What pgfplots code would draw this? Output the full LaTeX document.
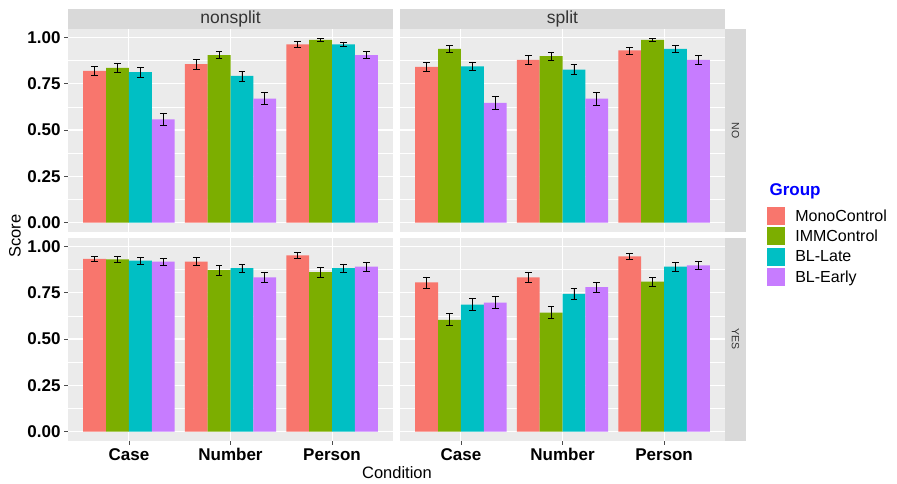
\documentclass[border=0pt]{standalone}
\usepackage{pgfplots}
\usepackage{pgfplotstable}
\pgfplotsset{compat=1.18}
\usepackage{fontspec}
\setmainfont{Liberation Sans}
\definecolor{cMono}{HTML}{F8766D}
\definecolor{cIMM}{HTML}{7CAE00}
\definecolor{cLate}{HTML}{00BFC4}
\definecolor{cEarly}{HTML}{C77CFF}
\definecolor{panelbg}{HTML}{EBEBEB}
\definecolor{stripbg}{HTML}{D9D9D9}
\definecolor{striptxt}{HTML}{333333}

\pgfplotstableread{
x mono monoe imm imme late latee early earlye
1 0.819 0.026 0.835 0.025 0.812 0.027 0.557 0.032
2 0.855 0.026 0.904 0.020 0.792 0.027 0.669 0.033
3 0.962 0.014 0.986 0.007 0.962 0.013 0.904 0.020
}\tNsNo
\pgfplotstableread{
x mono monoe imm imme late latee early earlye
1 0.841 0.025 0.938 0.019 0.844 0.023 0.646 0.033
2 0.879 0.023 0.899 0.022 0.826 0.026 0.669 0.034
3 0.929 0.019 0.986 0.009 0.938 0.017 0.879 0.024
}\tSpNo
\pgfplotstableread{
x mono monoe imm imme late latee early earlye
1 0.933 0.014 0.930 0.018 0.923 0.019 0.917 0.020
2 0.917 0.022 0.872 0.026 0.883 0.022 0.832 0.026
3 0.951 0.014 0.861 0.026 0.883 0.022 0.890 0.024
}\tNsYes
\pgfplotstableread{
x mono monoe imm imme late latee early earlye
1 0.805 0.030 0.604 0.032 0.686 0.033 0.697 0.032
2 0.832 0.025 0.643 0.033 0.744 0.030 0.780 0.027
3 0.946 0.016 0.809 0.025 0.890 0.023 0.897 0.021
}\tSpYes

\pgfplotsset{
  facet/.style={
    scale only axis, width=325pt, height=203pt,
    xmin=0.4, xmax=3.6, ymin=-0.05, ymax=1.045,
    xtick={1,2,3}, ytick={0,0.25,0.5,0.75,1},
    minor ytick={0.125,0.375,0.625,0.875},
    axis background/.style={fill=panelbg},
    axis line style={draw=none},
    xmajorgrids, ymajorgrids, yminorgrids,
    major grid style={white, line width=1.1pt},
    minor grid style={white, line width=0.55pt},
    tick pos=left, tick align=outside,
    major tick length=4pt, minor tick length=0pt,
    tick style={gray!60!black, line width=0.8pt},
    clip=false,
    anchor=south west,
    /pgf/number format/assume math mode=true,
    yticklabels={0.00,0.25,0.50,0.75,1.00},
    xticklabels={Case,Number,Person},
    ticklabel style={font=\bfseries\fontsize{17}{17}\selectfont, text=black},
  },
  noxlab/.style={xticklabels={}, xtick style={draw=none}},
  noylab/.style={yticklabels={}, ytick style={draw=none}},
  gbar/.style={ybar, bar width=0.225, bar shift=0, fill=#1, draw=none, forget plot,
    error bars/.cd, y dir=both, y explicit,
    error bar style={black, line width=0.75pt},
    error mark options={black, rotate=90, mark size=3.3pt, line width=0.75pt}},
}

\newcommand{\fourbars}[1]{%
  \addplot[gbar=cMono] table[x expr=\thisrow{x}-0.3375, y=mono, y error=monoe] {#1};
  \addplot[gbar=cIMM] table[x expr=\thisrow{x}-0.1125, y=imm, y error=imme] {#1};
  \addplot[gbar=cLate] table[x expr=\thisrow{x}+0.1125, y=late, y error=latee] {#1};
  \addplot[gbar=cEarly] table[x expr=\thisrow{x}+0.3375, y=early, y error=earlye] {#1};
}
\newcommand{\topstrip}[1]{%
  \fill[stripbg] (rel axis cs:0,1) rectangle ([yshift=20pt]rel axis cs:1,1);
  \node[font=\fontsize{17.5}{17.5}\selectfont, text=striptxt] at ([yshift=10pt]rel axis cs:0.5,1) {#1};
}
\newcommand{\sidestrip}[1]{%
  \fill[stripbg] (rel axis cs:1,0) rectangle ([xshift=21pt]rel axis cs:1,1);
  \node[rotate=-90, font=\fontsize{10.5}{10.5}\selectfont, text=striptxt] at ([xshift=10.5pt]rel axis cs:1,0.5) {#1};
}

\begin{document}
\begin{tikzpicture}
\useasboundingbox (0,0) rectangle (897pt,484pt);

% top-left: nonsplit / NO
\begin{axis}[facet, noxlab, at={(68pt,252pt)}]
  \fourbars{\tNsNo}
  \topstrip{nonsplit}
\end{axis}

% top-right: split / NO
\begin{axis}[facet, noxlab, noylab, at={(400pt,252pt)},
  legend image code/.code={\fill[#1] (0pt,-9pt) rectangle (18pt,9pt);},
  legend style={at={(1.1296,0.1232)}, anchor=north west, draw=none, fill=none,
    inner sep=0pt, row sep=2.3pt, column sep=10pt,
    font=\fontsize{16}{16}\selectfont, cells={anchor=west}, nodes={inner sep=0pt}},
  legend cell align=left]
  \fourbars{\tSpNo}
  \topstrip{split}
  \sidestrip{NO}
  \addlegendimage{fill=cMono, draw=none}\addlegendentry{MonoControl}
  \addlegendimage{fill=cIMM, draw=none}\addlegendentry{IMMControl}
  \addlegendimage{fill=cLate, draw=none}\addlegendentry{BL-Late}
  \addlegendimage{fill=cEarly, draw=none}\addlegendentry{BL-Early}
\end{axis}

% bottom-left: nonsplit / YES
\begin{axis}[facet, at={(68pt,43pt)}]
  \fourbars{\tNsYes}
\end{axis}

% bottom-right: split / YES
\begin{axis}[facet, noylab, at={(400pt,43pt)}]
  \fourbars{\tSpYes}
  \sidestrip{YES}
\end{axis}

\node[rotate=90, font=\fontsize{16.5}{16.5}\selectfont] at (15pt,248pt) {Score};
\node[font=\fontsize{16.5}{16.5}\selectfont] at (397pt,11pt) {Condition};
\node[anchor=base west, font=\bfseries\fontsize{17}{17}\selectfont, text=blue] at (766pt,288pt) {Group};
\end{tikzpicture}
\end{document}
